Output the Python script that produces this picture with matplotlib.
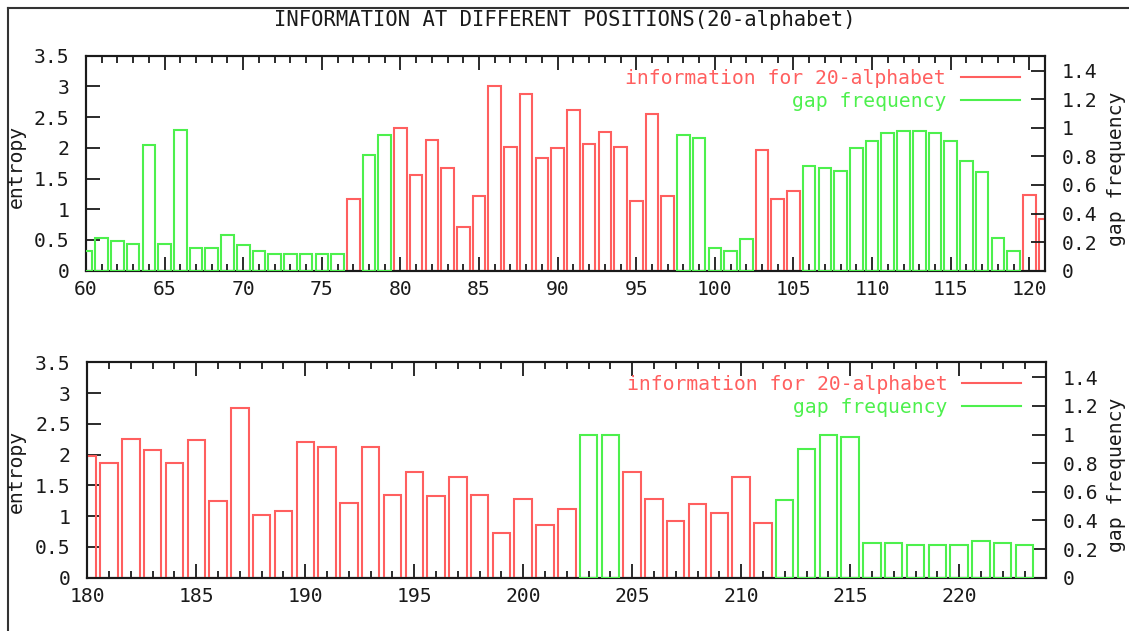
import numpy as np
import matplotlib.pyplot as plt
from matplotlib.lines import Line2D
from matplotlib.ticker import MultipleLocator, FormatStrFormatter

plt.rcParams['font.family'] = ['DejaVu Sans Mono', 'DejaVu Sans']
plt.rcParams['font.size'] = 14.2
plt.rcParams['text.color'] = '#1a1a1a'
plt.rcParams['xtick.color'] = '#1a1a1a'
plt.rcParams['ytick.color'] = '#1a1a1a'

RED = '#ff5f5f'
GREEN = '#4df04d'

# top panel: positions 60-121
top_info_x = [77, 80, 81, 82, 83, 84, 85, 86, 87, 88, 89, 90, 91, 92, 93, 94, 95, 96, 97,
              103, 104, 105, 120, 121]
top_info_y = [1.17, 2.32, 1.56, 2.13, 1.67, 0.71, 1.21, 3.00, 2.02, 2.88, 1.83, 1.99, 2.61,
              2.06, 2.26, 2.02, 1.13, 2.55, 1.21, 1.96, 1.17, 1.30, 1.23, 0.84]
top_gap_x = [60, 61, 62, 63, 64, 65, 66, 67, 68, 69, 70, 71, 72, 73, 74, 75, 76, 78, 79,
             98, 99, 100, 101, 102, 106, 107, 108, 109, 110, 111, 112, 113, 114, 115, 116,
             117, 118, 119]
top_gap_y = [0.14, 0.23, 0.21, 0.19, 0.88, 0.19, 0.985, 0.16, 0.16, 0.25, 0.18, 0.135, 0.12,
             0.12, 0.12, 0.12, 0.12, 0.81, 0.95, 0.95, 0.93, 0.16, 0.135, 0.22, 0.73, 0.72,
             0.70, 0.86, 0.91, 0.965, 0.98, 0.98, 0.965, 0.91, 0.77, 0.69, 0.23, 0.14]

# bottom panel: positions 180-223
bot_info_x = [180, 181, 182, 183, 184, 185, 186, 187, 188, 189, 190, 191, 192, 193, 194, 195,
              196, 197, 198, 199, 200, 201, 202, 205, 206, 207, 208, 209, 210, 211]
bot_info_y = [1.98, 1.87, 2.26, 2.08, 1.87, 2.24, 1.25, 2.75, 1.02, 1.08, 2.20, 2.13, 1.22,
              2.13, 1.35, 1.71, 1.32, 1.64, 1.35, 0.73, 1.28, 0.86, 1.12, 1.71, 1.28, 0.92,
              1.19, 1.05, 1.64, 0.89]
bot_gap_x = [203, 204, 212, 213, 214, 215, 216, 217, 218, 219, 220, 221, 222, 223]
bot_gap_y = [1.0, 1.0, 0.54, 0.90, 1.0, 0.985, 0.24, 0.24, 0.23, 0.23, 0.23, 0.255, 0.24, 0.23]

W, H = 1129, 631
fig = plt.figure(figsize=(W / 100, H / 100), dpi=100)


def panel(rect, xlim, ix, iy, gx, gy):
    ax = fig.add_axes(rect)
    ax2 = ax.twinx()
    ax.bar(ix, iy, width=0.8, fill=False, edgecolor=RED, linewidth=1.5, zorder=3)
    ax2.bar(gx, gy, width=0.8, fill=False, edgecolor=GREEN, linewidth=1.5, zorder=3)
    ax.set_xlim(*xlim)
    ax.set_ylim(0, 3.5)
    ax2.set_ylim(0, 1.505)
    ax.xaxis.set_major_locator(MultipleLocator(5))
    ax.xaxis.set_minor_locator(MultipleLocator(1))
    ax.yaxis.set_major_locator(MultipleLocator(0.5))
    ax.yaxis.set_major_formatter(FormatStrFormatter('%g'))
    ax2.yaxis.set_major_formatter(FormatStrFormatter('%g'))
    ax2.set_yticks(np.arange(0, 1.41, 0.2))
    ax.tick_params(axis='x', which='both', direction='in', top=True, pad=7)
    ax.tick_params(axis='x', which='major', length=10, width=1.3)
    ax.tick_params(axis='x', which='minor', length=5, width=1.3)
    ax.tick_params(axis='y', direction='in', length=10, width=1.3, pad=12)
    ax2.tick_params(axis='y', direction='in', length=10, width=1.3, pad=12)
    for a in (ax, ax2):
        for s in a.spines.values():
            s.set_linewidth(1.5)
            s.set_color('#1a1a1a')
    handles = [Line2D([], [], color=RED, lw=1.5), Line2D([], [], color=GREEN, lw=1.5)]
    leg = ax2.legend(handles, ['information for 20-alphabet', 'gap frequency'],
                     loc='upper right', bbox_to_anchor=(0.974, 0.94), frameon=False,
                     markerfirst=False, handlelength=3.0, handletextpad=0.75,
                     borderpad=0, borderaxespad=0, labelspacing=0.2)
    for t, c in zip(leg.get_texts(), (RED, GREEN)):
        t.set_color(c)
    return ax, ax2


panel([86 / W, 1 - 270.7 / H, 959 / W, 215 / H], (60, 121),
      top_info_x, top_info_y, top_gap_x, top_gap_y)
panel([87.3 / W, 1 - 577.7 / H, 959 / W, 215.4 / H], (180, 224),
      bot_info_x, bot_info_y, bot_gap_x, bot_gap_y)

fig.text(565 / W, 1 - 20 / H, 'INFORMATION AT DIFFERENT POSITIONS(20-alphabet)',
         ha='center', va='center', fontsize=14.8)
for yc in (166, 471):
    fig.text(16 / W, 1 - yc / H, 'entropy', rotation=90, ha='center', va='center')
for yc in (169, 475):
    fig.text(1116 / W, 1 - yc / H, 'gap frequency', rotation=90, ha='center', va='center')

# outer frame lines
fig.add_artist(Line2D([7.5 / W, 1], [1 - 8 / H, 1 - 8 / H], color='#333333', lw=1.5))
fig.add_artist(Line2D([7.5 / W, 7.5 / W], [0, 1 - 8 / H], color='#333333', lw=1.5))

fig.savefig('out.png', dpi=100)
